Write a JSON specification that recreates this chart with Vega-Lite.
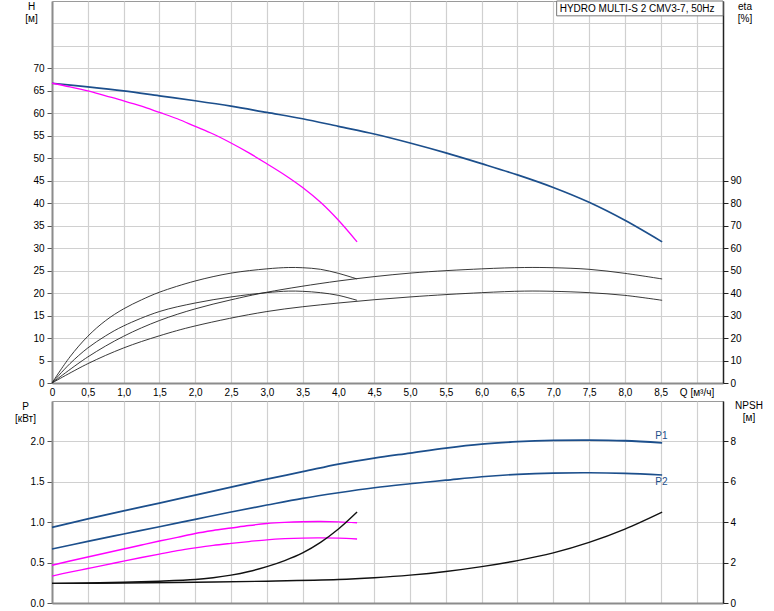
{
  "$schema": "https://vega.github.io/schema/vega-lite/v6.json",
  "padding": {"left": 14, "top": 0, "right": 0, "bottom": 0},
  "background": "white",
  "config": {
    "font": "Liberation Sans",
    "view": {"stroke": "#9a9a9a", "strokeWidth": 1},
    "axis": {
      "labelFont": "Liberation Sans", "labelFontSize": 10, "labelColor": "#000",
      "titleFont": "Liberation Sans", "titleFontSize": 10, "titleFontWeight": "normal", "titleColor": "#000",
      "gridColor": "#d0d0d0", "gridWidth": 1.2, "tickColor": "#555", "tickSize": 5,
      "domainColor": "#8c8c8c", "domainWidth": 2, "labelOverlap": false, "labelFlush": false
    },
    "line": {"interpolate": "catmull-rom"},
    "text": {"font": "Liberation Sans"}
  },
  "datasets": {
    "H": [
      {"s": "2", "Q": 0, "H": 66.7}, {"s": "2", "Q": 0.5, "H": 65.9}, {"s": "2", "Q": 1.0, "H": 65.0},
      {"s": "2", "Q": 1.5, "H": 63.9}, {"s": "2", "Q": 2.0, "H": 62.8}, {"s": "2", "Q": 2.5, "H": 61.6},
      {"s": "2", "Q": 3.0, "H": 60.2}, {"s": "2", "Q": 3.5, "H": 58.8}, {"s": "2", "Q": 4.0, "H": 57.1},
      {"s": "2", "Q": 4.5, "H": 55.4}, {"s": "2", "Q": 5.0, "H": 53.4}, {"s": "2", "Q": 5.5, "H": 51.2},
      {"s": "2", "Q": 6.0, "H": 48.8}, {"s": "2", "Q": 6.5, "H": 46.3}, {"s": "2", "Q": 7.0, "H": 43.5},
      {"s": "2", "Q": 7.5, "H": 40.2}, {"s": "2", "Q": 8.0, "H": 36.2}, {"s": "2", "Q": 8.52, "H": 31.4},
      {"s": "1", "Q": 0, "H": 66.7}, {"s": "1", "Q": 0.25, "H": 65.9}, {"s": "1", "Q": 0.5, "H": 65.0},
      {"s": "1", "Q": 0.75, "H": 63.9}, {"s": "1", "Q": 1.0, "H": 62.8}, {"s": "1", "Q": 1.25, "H": 61.6},
      {"s": "1", "Q": 1.5, "H": 60.2}, {"s": "1", "Q": 1.75, "H": 58.8}, {"s": "1", "Q": 2.0, "H": 57.1},
      {"s": "1", "Q": 2.25, "H": 55.4}, {"s": "1", "Q": 2.5, "H": 53.4}, {"s": "1", "Q": 2.75, "H": 51.2},
      {"s": "1", "Q": 3.0, "H": 48.8}, {"s": "1", "Q": 3.25, "H": 46.3}, {"s": "1", "Q": 3.5, "H": 43.5},
      {"s": "1", "Q": 3.75, "H": 40.2}, {"s": "1", "Q": 4.0, "H": 36.2}, {"s": "1", "Q": 4.26, "H": 31.4}
    ],
    "eta": [
      {"s": "a1", "Q": 0, "eta": 0}, {"s": "a1", "Q": 0.25, "eta": 11.6}, {"s": "a1", "Q": 0.5, "eta": 20.8},
      {"s": "a1", "Q": 0.75, "eta": 27.8}, {"s": "a1", "Q": 1.0, "eta": 33.0}, {"s": "a1", "Q": 1.25, "eta": 37.0},
      {"s": "a1", "Q": 1.5, "eta": 40.4}, {"s": "a1", "Q": 2.0, "eta": 45.4}, {"s": "a1", "Q": 2.5, "eta": 48.9},
      {"s": "a1", "Q": 3.0, "eta": 50.8}, {"s": "a1", "Q": 3.3, "eta": 51.4}, {"s": "a1", "Q": 3.5, "eta": 51.3},
      {"s": "a1", "Q": 3.75, "eta": 50.6}, {"s": "a1", "Q": 4.0, "eta": 48.8}, {"s": "a1", "Q": 4.26, "eta": 46.3},
      {"s": "a2", "Q": 0, "eta": 0}, {"s": "a2", "Q": 0.5, "eta": 11.6}, {"s": "a2", "Q": 1.0, "eta": 20.8},
      {"s": "a2", "Q": 1.5, "eta": 27.8}, {"s": "a2", "Q": 2.0, "eta": 33.0}, {"s": "a2", "Q": 2.5, "eta": 37.0},
      {"s": "a2", "Q": 3.0, "eta": 40.4}, {"s": "a2", "Q": 4.0, "eta": 45.4}, {"s": "a2", "Q": 5.0, "eta": 48.9},
      {"s": "a2", "Q": 6.0, "eta": 50.8}, {"s": "a2", "Q": 6.6, "eta": 51.4}, {"s": "a2", "Q": 7.0, "eta": 51.3},
      {"s": "a2", "Q": 7.5, "eta": 50.6}, {"s": "a2", "Q": 8.0, "eta": 48.8}, {"s": "a2", "Q": 8.52, "eta": 46.3},
      {"s": "b1", "Q": 0, "eta": 0}, {"s": "b1", "Q": 0.25, "eta": 8.6}, {"s": "b1", "Q": 0.5, "eta": 15.6},
      {"s": "b1", "Q": 0.75, "eta": 21.0}, {"s": "b1", "Q": 1.0, "eta": 25.4}, {"s": "b1", "Q": 1.5, "eta": 31.8},
      {"s": "b1", "Q": 2.0, "eta": 35.6}, {"s": "b1", "Q": 2.5, "eta": 38.3}, {"s": "b1", "Q": 3.0, "eta": 40.2},
      {"s": "b1", "Q": 3.3, "eta": 40.9}, {"s": "b1", "Q": 3.5, "eta": 40.8}, {"s": "b1", "Q": 3.75, "eta": 40.2},
      {"s": "b1", "Q": 4.0, "eta": 39.0}, {"s": "b1", "Q": 4.26, "eta": 36.8},
      {"s": "b2", "Q": 0, "eta": 0}, {"s": "b2", "Q": 0.5, "eta": 8.6}, {"s": "b2", "Q": 1.0, "eta": 15.6},
      {"s": "b2", "Q": 1.5, "eta": 21.0}, {"s": "b2", "Q": 2.0, "eta": 25.4}, {"s": "b2", "Q": 3.0, "eta": 31.8},
      {"s": "b2", "Q": 4.0, "eta": 35.6}, {"s": "b2", "Q": 5.0, "eta": 38.3}, {"s": "b2", "Q": 6.0, "eta": 40.2},
      {"s": "b2", "Q": 6.6, "eta": 40.9}, {"s": "b2", "Q": 7.0, "eta": 40.8}, {"s": "b2", "Q": 7.5, "eta": 40.2},
      {"s": "b2", "Q": 8.0, "eta": 39.0}, {"s": "b2", "Q": 8.52, "eta": 36.8}
    ],
    "P": [
      {"s": "P1_2", "Q": 0, "P": 0.936}, {"s": "P1_2", "Q": 0.5, "P": 1.04}, {"s": "P1_2", "Q": 1.0, "P": 1.14},
      {"s": "P1_2", "Q": 1.5, "P": 1.237}, {"s": "P1_2", "Q": 2.0, "P": 1.336}, {"s": "P1_2", "Q": 2.5, "P": 1.435},
      {"s": "P1_2", "Q": 3.0, "P": 1.534}, {"s": "P1_2", "Q": 3.5, "P": 1.625}, {"s": "P1_2", "Q": 4.0, "P": 1.72},
      {"s": "P1_2", "Q": 4.5, "P": 1.794}, {"s": "P1_2", "Q": 5.0, "P": 1.856}, {"s": "P1_2", "Q": 5.5, "P": 1.918},
      {"s": "P1_2", "Q": 6.0, "P": 1.967}, {"s": "P1_2", "Q": 6.5, "P": 1.996}, {"s": "P1_2", "Q": 7.0, "P": 2.012},
      {"s": "P1_2", "Q": 7.5, "P": 2.016}, {"s": "P1_2", "Q": 8.0, "P": 2.008}, {"s": "P1_2", "Q": 8.52, "P": 1.983},
      {"s": "P2_2", "Q": 0, "P": 0.668}, {"s": "P2_2", "Q": 0.5, "P": 0.763}, {"s": "P2_2", "Q": 1.0, "P": 0.854},
      {"s": "P2_2", "Q": 1.5, "P": 0.944}, {"s": "P2_2", "Q": 2.0, "P": 1.035}, {"s": "P2_2", "Q": 2.5, "P": 1.126},
      {"s": "P2_2", "Q": 3.0, "P": 1.212}, {"s": "P2_2", "Q": 3.5, "P": 1.295}, {"s": "P2_2", "Q": 4.0, "P": 1.365},
      {"s": "P2_2", "Q": 4.5, "P": 1.427}, {"s": "P2_2", "Q": 5.0, "P": 1.476}, {"s": "P2_2", "Q": 5.5, "P": 1.52},
      {"s": "P2_2", "Q": 6.0, "P": 1.563}, {"s": "P2_2", "Q": 6.5, "P": 1.592}, {"s": "P2_2", "Q": 7.0, "P": 1.608},
      {"s": "P2_2", "Q": 7.5, "P": 1.612}, {"s": "P2_2", "Q": 8.0, "P": 1.604}, {"s": "P2_2", "Q": 8.52, "P": 1.584},
      {"s": "P1_1", "Q": 0, "P": 0.468}, {"s": "P1_1", "Q": 0.25, "P": 0.52}, {"s": "P1_1", "Q": 0.5, "P": 0.57},
      {"s": "P1_1", "Q": 0.75, "P": 0.618}, {"s": "P1_1", "Q": 1.0, "P": 0.668}, {"s": "P1_1", "Q": 1.25, "P": 0.718},
      {"s": "P1_1", "Q": 1.5, "P": 0.767}, {"s": "P1_1", "Q": 1.75, "P": 0.812}, {"s": "P1_1", "Q": 2.0, "P": 0.86},
      {"s": "P1_1", "Q": 2.25, "P": 0.897}, {"s": "P1_1", "Q": 2.5, "P": 0.928}, {"s": "P1_1", "Q": 2.75, "P": 0.959},
      {"s": "P1_1", "Q": 3.0, "P": 0.984}, {"s": "P1_1", "Q": 3.25, "P": 0.998}, {"s": "P1_1", "Q": 3.5, "P": 1.006},
      {"s": "P1_1", "Q": 3.75, "P": 1.008}, {"s": "P1_1", "Q": 4.0, "P": 1.004}, {"s": "P1_1", "Q": 4.26, "P": 0.992},
      {"s": "P2_1", "Q": 0, "P": 0.334}, {"s": "P2_1", "Q": 0.25, "P": 0.382}, {"s": "P2_1", "Q": 0.5, "P": 0.427},
      {"s": "P2_1", "Q": 0.75, "P": 0.472}, {"s": "P2_1", "Q": 1.0, "P": 0.518}, {"s": "P2_1", "Q": 1.25, "P": 0.563},
      {"s": "P2_1", "Q": 1.5, "P": 0.606}, {"s": "P2_1", "Q": 1.75, "P": 0.648}, {"s": "P2_1", "Q": 2.0, "P": 0.683},
      {"s": "P2_1", "Q": 2.25, "P": 0.714}, {"s": "P2_1", "Q": 2.5, "P": 0.738}, {"s": "P2_1", "Q": 2.75, "P": 0.76},
      {"s": "P2_1", "Q": 3.0, "P": 0.782}, {"s": "P2_1", "Q": 3.25, "P": 0.796}, {"s": "P2_1", "Q": 3.5, "P": 0.804},
      {"s": "P2_1", "Q": 3.75, "P": 0.806}, {"s": "P2_1", "Q": 4.0, "P": 0.802}, {"s": "P2_1", "Q": 4.26, "P": 0.792}
    ],
    "NPSH": [
      {"s": "N2", "Q": 0, "N": 0.97}, {"s": "N2", "Q": 1.0, "N": 0.99}, {"s": "N2", "Q": 2.0, "N": 1.03},
      {"s": "N2", "Q": 3.0, "N": 1.08}, {"s": "N2", "Q": 4.0, "N": 1.16}, {"s": "N2", "Q": 4.5, "N": 1.25},
      {"s": "N2", "Q": 5.0, "N": 1.38}, {"s": "N2", "Q": 5.5, "N": 1.56}, {"s": "N2", "Q": 6.0, "N": 1.8},
      {"s": "N2", "Q": 6.5, "N": 2.1}, {"s": "N2", "Q": 7.0, "N": 2.48}, {"s": "N2", "Q": 7.5, "N": 3.0},
      {"s": "N2", "Q": 8.0, "N": 3.66}, {"s": "N2", "Q": 8.52, "N": 4.5},
      {"s": "N1", "Q": 0, "N": 0.97}, {"s": "N1", "Q": 0.5, "N": 0.99}, {"s": "N1", "Q": 1.0, "N": 1.03},
      {"s": "N1", "Q": 1.5, "N": 1.08}, {"s": "N1", "Q": 2.0, "N": 1.16}, {"s": "N1", "Q": 2.25, "N": 1.25},
      {"s": "N1", "Q": 2.5, "N": 1.38}, {"s": "N1", "Q": 2.75, "N": 1.56}, {"s": "N1", "Q": 3.0, "N": 1.8},
      {"s": "N1", "Q": 3.25, "N": 2.1}, {"s": "N1", "Q": 3.5, "N": 2.48}, {"s": "N1", "Q": 3.75, "N": 3.0},
      {"s": "N1", "Q": 4.0, "N": 3.66}, {"s": "N1", "Q": 4.26, "N": 4.5}
    ]
  },
  "spacing": 18,
  "bounds": "flush",
  "resolve": {"scale": {"color": "independent", "strokeWidth": "independent"}},
  "vconcat": [
    {
      "width": 671,
      "height": 382,
      "resolve": {"scale": {"y": "independent", "strokeWidth": "independent"}},
      "layer": [
        {
          "layer": [
            {
              "data": {"name": "H"},
              "mark": {"type": "line", "interpolate": "catmull-rom"},
              "encoding": {
                "x": {
                  "field": "Q", "type": "quantitative",
                  "scale": {"domain": [0, 9.37], "nice": false, "zero": false},
                  "axis": {
                    "values": [0, 0.5, 1, 1.5, 2, 2.5, 3, 3.5, 4, 4.5, 5, 5.5, 6, 6.5, 7, 7.5, 8, 8.5, 9],
                    "tickCount": 60,
                    "labelExpr": "datum.value == 0 ? '0' : (datum.value == 9 ? 'Q [м³/ч]' : replace(format(datum.value, '.1f'), '.', ','))",
                    "title": null, "ticks": false, "labelPadding": 4, "grid": true
                  }
                },
                "y": {
                  "field": "H", "type": "quantitative",
                  "scale": {"domain": [0, 85], "nice": false},
                  "axis": {
                    "orient": "left",
                    "values": [0, 5, 10, 15, 20, 25, 30, 35, 40, 45, 50, 55, 60, 65, 70, 75, 80],
                    "tickCount": 60, "format": "d",
                    "labelExpr": "datum.value <= 70 ? datum.label : ''",
                    "tickOpacity": {"condition": {"test": "datum.value > 70", "value": 0}, "value": 1},
                    "title": ["H", "[м]"], "titleAngle": 0, "titleX": -21, "titleY": 0,
                    "titleAlign": "center", "titleBaseline": "top", "titleLineHeight": 12.5,
                    "labelPadding": 3, "grid": true
                  }
                },
                "color": {"field": "s", "type": "nominal", "scale": {"domain": ["2", "1"], "range": ["#1c4f8c", "#ff00ff"]}, "legend": null},
                "strokeWidth": {"field": "s", "type": "nominal", "scale": {"domain": ["2", "1"], "range": [1.7, 1.3]}, "legend": null}
              }
            },
            {
              "data": {"values": [{}]},
              "mark": {"type": "rect", "fill": "white", "stroke": "#777", "strokeWidth": 1},
              "encoding": {
                "x": {"datum": 7.047, "type": "quantitative"},
                "x2": {"datum": 9.37},
                "y": {"datum": 85, "type": "quantitative"},
                "y2": {"datum": 81.7}
              }
            },
            {
              "data": {"values": [{}]},
              "mark": {"type": "text", "align": "left", "baseline": "middle", "fontSize": 10, "color": "#000"},
              "encoding": {
                "x": {"datum": 7.09, "type": "quantitative"},
                "y": {"datum": 83.3, "type": "quantitative"},
                "text": {"value": "HYDRO MULTI-S 2 CMV3-7, 50Hz"}
              }
            }
          ]
        },
        {
          "data": {"name": "eta"},
          "mark": {"type": "line", "interpolate": "catmull-rom", "color": "#222"},
          "encoding": {
            "x": {"field": "Q", "type": "quantitative"},
            "y": {
              "field": "eta", "type": "quantitative",
              "scale": {"domain": [0, 170], "nice": false},
              "axis": {
                "orient": "right", "values": [0, 10, 20, 30, 40, 50, 60, 70, 80, 90], "tickCount": 60, "format": "d", "grid": false,
                "title": ["eta", "[%]"], "titleAngle": 0, "titleX": 21.5, "titleY": 0,
                "titleAlign": "center", "titleBaseline": "top", "titleLineHeight": 12.5,
                "domainColor": "#222", "domainWidth": 1.5, "tickColor": "#222", "labelPadding": 2
              }
            },
            "detail": {"field": "s", "type": "nominal"},
            "strokeWidth": {"field": "s", "type": "nominal", "scale": {"domain": ["a1", "a2", "b1", "b2"], "range": [0.9, 0.9, 1.5, 1.5]}, "legend": null}
          }
        }
      ]
    },
    {
      "width": 671,
      "height": 202,
      "resolve": {"scale": {"y": "independent"}},
      "layer": [
        {
          "layer": [
            {
              "data": {"name": "P"},
              "mark": {"type": "line", "interpolate": "catmull-rom"},
              "encoding": {
                "x": {
                  "field": "Q", "type": "quantitative",
                  "scale": {"domain": [0, 9.37], "nice": false, "zero": false},
                  "axis": {
                    "values": [0, 0.5, 1, 1.5, 2, 2.5, 3, 3.5, 4, 4.5, 5, 5.5, 6, 6.5, 7, 7.5, 8, 8.5, 9],
                    "tickCount": 60,
                    "labels": false, "ticks": false, "title": null, "grid": true
                  }
                },
                "y": {
                  "field": "P", "type": "quantitative",
                  "scale": {"domain": [0, 2.5], "nice": false},
                  "axis": {
                    "orient": "left", "values": [0, 0.5, 1, 1.5, 2], "tickCount": 60, "format": ".1f",
                    "title": ["P", "[кВт]"], "titleAngle": 0, "titleX": -27, "titleY": 0,
                    "titleAlign": "center", "titleBaseline": "top", "titleLineHeight": 12.5,
                    "labelPadding": 3, "grid": true
                  }
                },
                "color": {"field": "s", "type": "nominal", "scale": {"domain": ["P1_2", "P2_2", "P1_1", "P2_1"], "range": ["#1c4f8c", "#1c4f8c", "#ff00ff", "#ff00ff"]}, "legend": null},
                "strokeWidth": {"field": "s", "type": "nominal", "scale": {"domain": ["P1_2", "P2_2", "P1_1", "P2_1"], "range": [1.8, 1.3, 1.8, 1.2]}, "legend": null}
              }
            },
            {
              "data": {"values": [{}]},
              "mark": {"type": "text", "align": "center", "baseline": "middle", "fontSize": 10, "color": "#1c4f8c"},
              "encoding": {
                "x": {"datum": 8.51, "type": "quantitative"},
                "y": {"datum": 2.07, "type": "quantitative"},
                "text": {"value": "P1"}
              }
            },
            {
              "data": {"values": [{}]},
              "mark": {"type": "text", "align": "center", "baseline": "middle", "fontSize": 10, "color": "#1c4f8c"},
              "encoding": {
                "x": {"datum": 8.51, "type": "quantitative"},
                "y": {"datum": 1.497, "type": "quantitative"},
                "text": {"value": "P2"}
              }
            }
          ]
        },
        {
          "data": {"name": "NPSH"},
          "mark": {"type": "line", "interpolate": "catmull-rom", "color": "#111", "strokeWidth": 1.4},
          "encoding": {
            "x": {"field": "Q", "type": "quantitative"},
            "y": {
              "field": "N", "type": "quantitative",
              "scale": {"domain": [0, 10], "nice": false},
              "axis": {
                "orient": "right", "values": [0, 2, 4, 6, 8], "tickCount": 60, "format": "d", "grid": false,
                "title": ["NPSH", "[м]"], "titleAngle": 0, "titleX": 25.5, "titleY": -1,
                "titleAlign": "center", "titleBaseline": "top", "titleLineHeight": 12.5,
                "domainColor": "#222", "domainWidth": 1.5, "tickColor": "#222", "labelPadding": 2
              }
            },
            "detail": {"field": "s", "type": "nominal"}
          }
        }
      ]
    }
  ]
}
